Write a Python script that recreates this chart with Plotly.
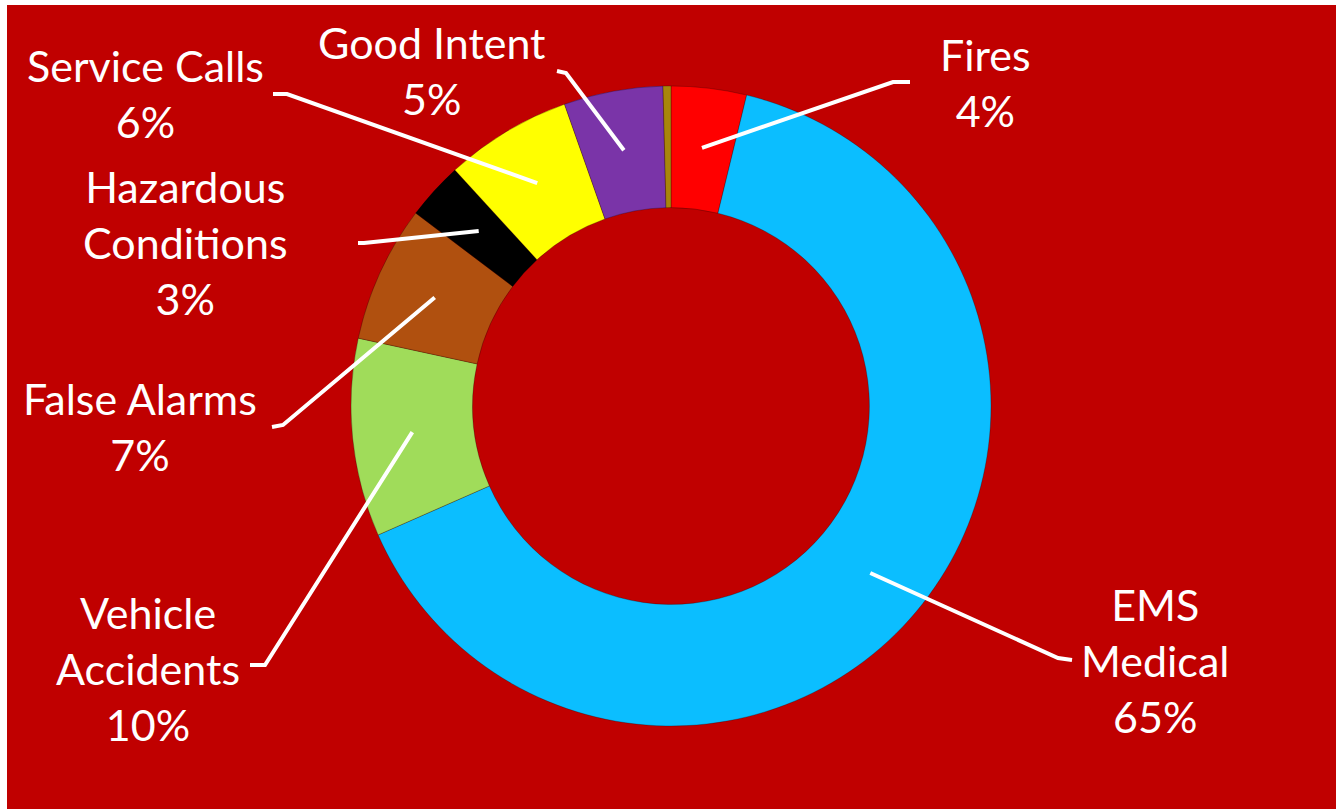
import math
import plotly.graph_objects as go

# ---- data ----
categories = ["Fires", "EMS Medical", "Vehicle Accidents", "False Alarms",
              "Hazardous Conditions", "Service Calls", "Good Intent", "Other"]
values = [3.8, 64.6, 10.0, 6.9, 2.9, 6.4, 5.0, 0.4]
label_lines = [["Fires"], ["EMS", "Medical"], ["Vehicle", "Accidents"], ["False Alarms"],
               ["Hazardous", "Conditions"], ["Service Calls"], ["Good Intent"], None]

# ---- styles / layout ----
colors = ["#FF0000", "#0BBEFF", "#A0DC5A", "#B0500F", "#000000", "#FFFF00", "#7A34A8", "#A8860B"]
W, H = 1338, 809
CX, CY, R_OUT = 671, 406, 320
HOLE = 0.62
R_ANCHOR = 260
# label block center, elbow, end of leader (pixels)
label_pos = [(985, 83), (1155, 660), (148, 668), (140, 426), (185, 242), (145, 94), (432, 71), None]
leader_pts = [[(893, 82), (910, 82)], [(1058, 658), (1072, 660)], [(265, 665), (250, 665)],
              [(283, 425), (272, 427)], [(364, 243), (358, 243)], [(287, 94), (273, 94)],
              [(566, 73), (557, 71)], None]

def px(x):
    return x / W

def py(y):
    return 1 - y / H

fig = go.Figure()
fig.add_trace(go.Pie(
    labels=categories, values=values, sort=False, direction="clockwise", rotation=0,
    hole=HOLE, textinfo="none", hoverinfo="label+percent",
    marker=dict(colors=colors, line=dict(color="rgba(0,0,0,0.25)", width=1)),
    domain=dict(x=[px(CX - R_OUT), px(CX + R_OUT)], y=[py(CY + R_OUT), py(CY - R_OUT)]),
    showlegend=False,
))

shapes = [dict(type="rect", xref="paper", yref="paper", x0=px(7), x1=px(1336), y0=0, y1=py(5),
               fillcolor="#C00000", line=dict(width=0), layer="below")]
annotations = []
total = sum(values)
cum = 0.0
for i, v in enumerate(values):
    mid = (cum + v / 2) / total * 2 * math.pi
    cum += v
    if label_lines[i] is None:
        continue
    ax = CX + R_ANCHOR * math.sin(mid)
    ay = CY - R_ANCHOR * math.cos(mid)
    pts = [(ax, ay)] + leader_pts[i]
    path = "M " + " L ".join(f"{px(x):.5f},{py(y):.5f}" for x, y in pts)
    shapes.append(dict(type="path", xref="paper", yref="paper", path=path,
                       line=dict(color="white", width=4)))
    pct = round(v / total * 100)
    text = "<br>".join(label_lines[i] + [f"{pct}%"])
    lx, ly = label_pos[i]
    annotations.append(dict(x=px(lx), y=py(ly), xref="paper", yref="paper", text=text,
                            showarrow=False, xanchor="center", yanchor="middle",
                            font=dict(family="Lato", size=43, color="white")))

fig.update_layout(
    width=W, height=H, margin=dict(l=0, r=0, t=0, b=0),
    paper_bgcolor="white", shapes=shapes, annotations=annotations,
)
fig.write_html("out.html", config={"displayModeBar": False},
               post_script="document.body.style.margin='0';")
